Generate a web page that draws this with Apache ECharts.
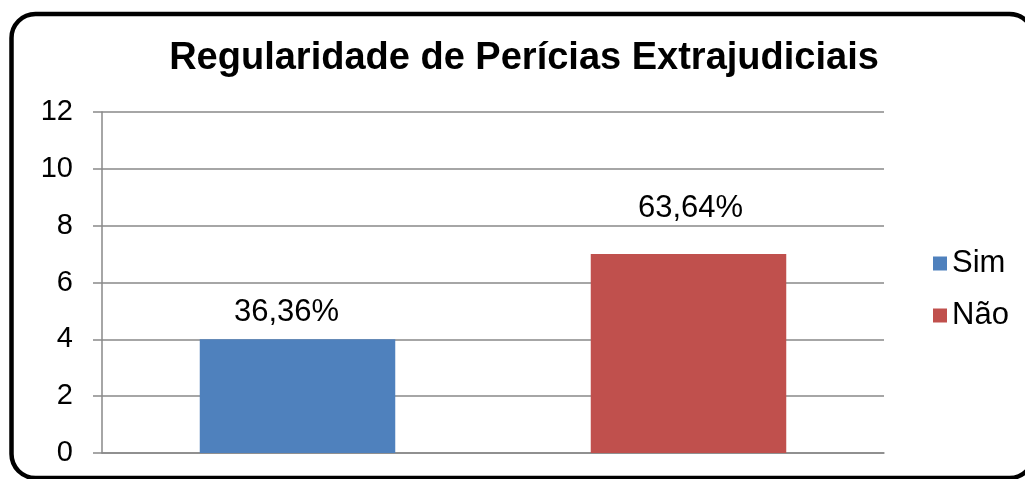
<!DOCTYPE html>
<html>
<head>
	<meta charset="utf-8" />
	<title>Regularidade de Perícias Extrajudiciais</title>
	<script src="https://cdn.jsdelivr.net/npm/echarts@6/dist/echarts.min.js"></script>
	<style>
		html, body { margin: 0; padding: 0; background: #fff; }
		#main { width: 1025px; height: 479px; }
	</style>
</head>
<body>
	<div id="main"></div>
	<script>
		// dados do gráfico
		var categorias = ['Sim', 'Não'];
		var valores = [4, 7];
		var percentuais = ['36,36%', '63,64%'];
		var yTicks = [0, 2, 4, 6, 8, 10, 12];

		// estilo
		var cores = ['#4F81BD', '#C0504D'];
		var distRotulo = [11, 30];
		var deslocRotulo = [-11, 2];
		var fonte = '"Liberation Sans", Arial, sans-serif';

		var myChart = echarts.init(document.getElementById('main'));

		// uma série por categoria, empilhadas para ficarem centradas
		var series = categorias.map(function (nome, i) {
			var dados = categorias.map(function (c, j) {
				return j === i ? valores[i] : '-';
			});
			return {
				name: nome,
				type: 'bar',
				stack: 'total',
				barWidth: '50%',
				data: dados,
				itemStyle: { color: cores[i] },
				label: {
					show: true,
					position: 'top',
					distance: distRotulo[i],
					offset: [deslocRotulo[i], 0],
					color: '#000',
					fontSize: 31,
					fontFamily: fonte,
					formatter: function () { return percentuais[i]; }
				}
			};
		});

		var option = {
			animation: false,
			backgroundColor: '#fff',
			title: {
				text: 'Regularidade de Perícias Extrajudiciais',
				left: 519,
				top: 35,
				textAlign: 'center',
				textStyle: {
					fontFamily: fonte,
					fontWeight: 'bold',
					fontSize: 38,
					color: '#000'
				}
			},
			legend: {
				orient: 'vertical',
				left: 928,
				top: 243,
				itemWidth: 14,
				itemHeight: 14,
				itemGap: 21,
				itemTextGap: 6,
				icon: 'rect',
				data: categorias,
				textStyle: { fontFamily: fonte, fontSize: 31, color: '#000' }
			},
			grid: { left: 102, right: 141, top: 112, bottom: 26 },
			xAxis: {
				type: 'category',
				data: categorias,
				axisLine: { lineStyle: { color: '#898989', width: 1.5 } },
				axisTick: { show: false },
				axisLabel: { show: false }
			},
			yAxis: {
				type: 'value',
				min: yTicks[0],
				max: yTicks[yTicks.length - 1],
				interval: 2,
				axisLine: { show: true, lineStyle: { color: '#898989', width: 1.5 } },
				axisTick: { show: true, length: 9, lineStyle: { color: '#898989', width: 1.5 } },
				axisLabel: { margin: 29, fontSize: 29, fontFamily: fonte, color: '#000' },
				splitLine: { lineStyle: { color: '#898989', width: 1.5 } }
			},
			graphic: [{
				type: 'rect',
				shape: { x: 11.5, y: 14, width: 1022, height: 464, r: 24 },
				style: { fill: 'none', stroke: '#000', lineWidth: 4.5 },
				z: 100
			}],
			series: series
		};

		myChart.setOption(option);
	</script>
</body>
</html>
